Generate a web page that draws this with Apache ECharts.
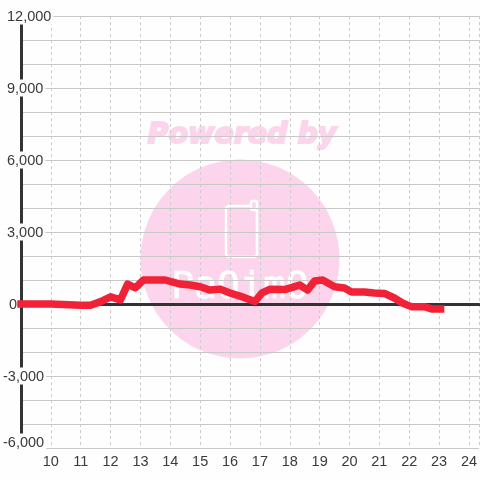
<!DOCTYPE html>
<html><head><meta charset="utf-8">
<style>html,body{margin:0;padding:0;background:#fff}#c{width:480px;height:480px}</style>
<script src="https://cdn.jsdelivr.net/npm/echarts@6/dist/echarts.min.js"></script>
</head><body><div id="c"></div>
<script>
const hours=[9,10,11,11.33,11.67,12,12.33,12.57,12.83,13.1,13.83,14.33,14.67,15,15.33,15.67,16,16.33,16.83,17.07,17.33,17.83,18.33,18.6,18.83,19.1,19.5,19.83,20.07,20.5,20.83,21.17,21.5,21.77,22.07,22.5,22.77,23.05];
const values=[0,0,-50,-50,100,300,170,830,670,1000,1000,830,790,720,580,620,460,330,100,460,610,600,790,580,960,1000,720,670,500,500,460,440,250,40,-110,-110,-210,-210];
const xTickLabels=[10,11,12,13,14,15,16,17,18,19,20,21,22,23,24];
const yTickLabels=[12000,9000,6000,3000,0,-3000,-6000];
const pink='#fcd5ec';
const bg='#fefefe';
const chart=echarts.init(document.getElementById('c'),null,{renderer:'canvas'});
const fmtNum=v=>v.toLocaleString('en-US');
chart.setOption({
 animation:false,backgroundColor:bg,
 textStyle:{fontFamily:'"Liberation Sans",Arial,sans-serif'},
 grid:{left:20,right:0,top:16,bottom:32,containLabel:false},
 graphic:[
  {type:'circle',z:-10,shape:{cx:240,cy:259,r:99.5},style:{fill:pink}},
  {type:'text',z:-10,x:242,y:136,style:{text:'Powered by',fill:pink,stroke:pink,lineWidth:2,font:'italic bold 28.5px "DejaVu Sans"',align:'center',verticalAlign:'middle'}},
  {type:'rect',z:-9,shape:{x:226,y:206,width:31,height:51,r:3},style:{fill:'none',stroke:'#fff',lineWidth:2.5}},
  {type:'rect',z:-9,shape:{x:251,y:201,width:6,height:9,r:2},style:{fill:pink,stroke:'#fff',lineWidth:2.5}},
  {type:'text',z:-9,x:240,y:288,style:{text:'PaOimO',fill:'#fff',stroke:'#fff',lineWidth:0.6,font:'38px "DejaVu Sans Mono"',align:'center',verticalAlign:'middle'}}
 ],
 xAxis:{type:'value',min:9,max:24.333,interval:1,
  axisLine:{onZero:true,lineStyle:{color:'#333',width:3}},axisTick:{show:false},
  splitLine:{show:true,lineStyle:{color:'#ccc',type:[3,3],width:1}},
  axisLabel:{color:'#3a3a3a',fontSize:14.5,margin:6,customValues:xTickLabels},
  position:'bottom'},
 yAxis:{type:'value',min:-6000,max:12000,interval:1000,
  axisLine:{show:true,onZero:false,lineStyle:{color:'#333',width:3}},axisTick:{show:false},
  splitLine:{show:true,lineStyle:{color:'#c8c8c8',width:1}},
  axisLabel:{color:'#3a3a3a',fontSize:14.5,margin:18,align:'left',showMinLabel:true,showMaxLabel:true,
   formatter:v=>{
    if(!yTickLabels.includes(v))return '';
    const s=fmtNum(v);
    if(v===-6000)return '{e|'+s+'}';
    if(v<0)return '{n|'+s+'}';
    if(v===0)return '{z|}{n|'+s+'}';
    return '{p|}{n|'+s+'}';
   },
   rich:{p:{width:4,backgroundColor:bg,height:14},z:{width:6,backgroundColor:bg,height:14},n:{fontSize:14.5,color:'#3a3a3a',backgroundColor:bg,padding:[2,2,0,0]},e:{fontSize:14.5,color:'#3a3a3a',backgroundColor:bg,padding:[2,2,12,0]}}
  }},
 series:[{type:'line',data:hours.map((h,i)=>[h,values[i]]),showSymbol:false,symbol:'none',clip:false,z:5,
   lineStyle:{color:'#f12238',width:7.5,cap:'square',join:'round'}}]
});
</script></body></html>
